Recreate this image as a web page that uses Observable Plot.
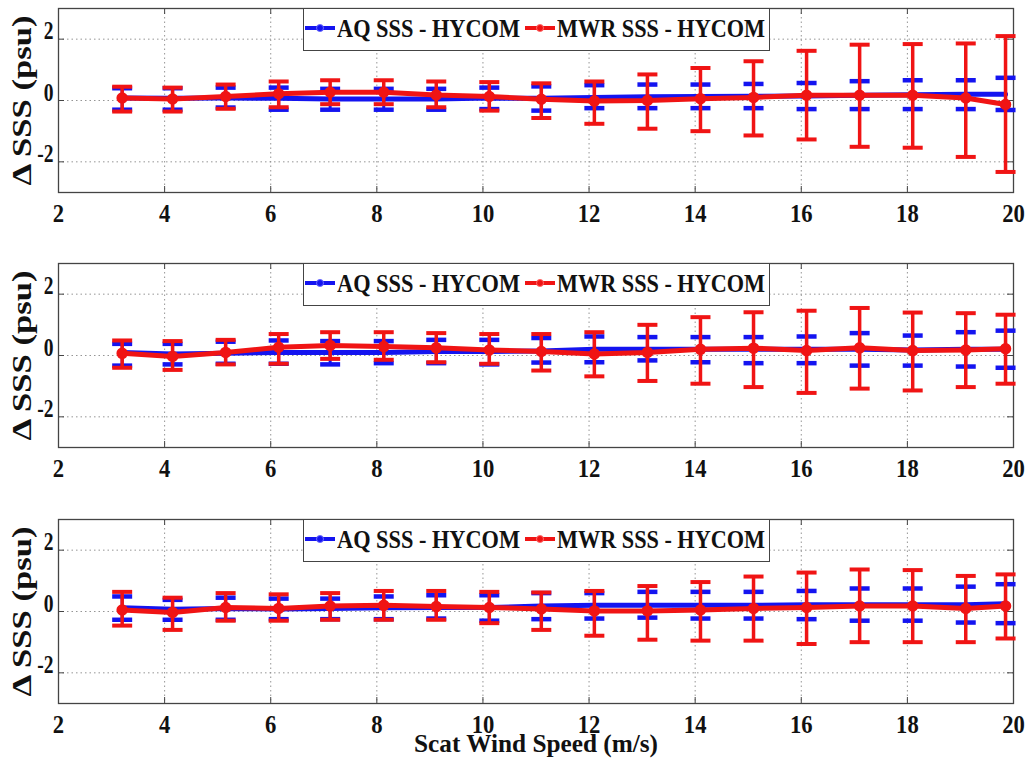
<!DOCTYPE html>
<html>
<head>
<meta charset="utf-8">
<script src="https://cdn.jsdelivr.net/npm/d3@7"></script>
<script src="https://cdn.jsdelivr.net/npm/@observablehq/plot@0.6"></script>
<style>
  body { margin: 0; background: #fff; }
  #chart { position: relative; width: 1031px; height: 774px; overflow: hidden; background: #fff; }
  .panel { position: absolute; left: 0; }
  .legend { position: absolute; left: 303px; width: 467px; height: 43px; border: 1.3px solid #444; background: #fff; box-sizing: border-box;
            font-family: "Liberation Serif", Tinos, "Times New Roman", Times, "DejaVu Serif", serif; font-weight: bold; font-size: 26px; color: #111; }
  .legend .lab { position: absolute; top: 7px; line-height: 1; white-space: nowrap; transform-origin: left center; }
  .legend .sw { position: absolute; top: 17px; width: 30px; height: 4px; }
  .legend .mk { position: absolute; top: 15px; width: 8px; height: 8px; border-radius: 50%; }
</style>
</head>
<body>
<div id="chart"></div>
<script>
// ---------------- data ----------------
const windSpeed = [3.2, 4.15, 5.15, 6.15, 7.12, 8.13, 9.12, 10.12, 11.1, 12.1, 13.1, 14.1, 15.1, 16.1, 17.1, 18.1, 19.1, 19.85];
const xTicks = [2, 4, 6, 8, 10, 12, 14, 16, 18, 20];
const yTicks = [-2, 0, 2];
const seriesNames = ["AQ SSS - HYCOM", "MWR SSS - HYCOM"];
const yLabel = "Δ SSS (psu)";
const xLabel = "Scat Wind Speed (m/s)";

// Panel 1
const aq1Mean  = [0.08, 0.07, 0.08, 0.07, 0.05, 0.05, 0.05, 0.08, 0.07, 0.1, 0.12, 0.13, 0.14, 0.15, 0.17, 0.19, 0.2, 0.2];
const aq1Hi    = [0.4, 0.4, 0.42, 0.42, 0.38, 0.38, 0.38, 0.42, 0.46, 0.5, 0.52, 0.52, 0.54, 0.57, 0.63, 0.66, 0.66, 0.74];
const aq1Lo    = [-0.3, -0.3, -0.23, -0.3, -0.3, -0.3, -0.3, -0.28, -0.33, -0.25, -0.25, -0.25, -0.25, -0.28, -0.28, -0.28, -0.28, -0.31];
const mwr1Mean = [0.08, 0.05, 0.13, 0.22, 0.27, 0.27, 0.18, 0.13, 0.04, -0.02, 0.0, 0.06, 0.1, 0.17, 0.17, 0.17, 0.08, -0.13];
const mwr1Hi   = [0.45, 0.42, 0.52, 0.62, 0.66, 0.66, 0.62, 0.6, 0.56, 0.62, 0.85, 1.06, 1.28, 1.62, 1.82, 1.84, 1.86, 2.1];
const mwr1Lo   = [-0.36, -0.36, -0.27, -0.22, -0.12, -0.12, -0.22, -0.33, -0.57, -0.76, -0.92, -1.0, -1.14, -1.27, -1.51, -1.54, -1.84, -2.33];

// Panel 2
const aq2Mean  = [0.1, 0.05, 0.07, 0.1, 0.1, 0.1, 0.13, 0.13, 0.15, 0.2, 0.2, 0.2, 0.2, 0.2, 0.2, 0.18, 0.2, 0.2];
const aq2Hi    = [0.38, 0.38, 0.45, 0.49, 0.47, 0.47, 0.51, 0.51, 0.57, 0.62, 0.6, 0.6, 0.6, 0.62, 0.73, 0.65, 0.76, 0.81];
const aq2Lo    = [-0.33, -0.29, -0.27, -0.27, -0.29, -0.25, -0.25, -0.29, -0.23, -0.22, -0.16, -0.22, -0.25, -0.25, -0.33, -0.33, -0.36, -0.4];
const mwr2Mean = [0.07, -0.03, 0.1, 0.27, 0.33, 0.29, 0.25, 0.18, 0.13, 0.05, 0.1, 0.2, 0.24, 0.16, 0.25, 0.16, 0.18, 0.22];
const mwr2Hi   = [0.49, 0.47, 0.51, 0.7, 0.76, 0.76, 0.73, 0.7, 0.7, 0.76, 1.0, 1.25, 1.41, 1.46, 1.55, 1.4, 1.38, 1.33];
const mwr2Lo   = [-0.4, -0.47, -0.29, -0.27, -0.11, -0.14, -0.22, -0.27, -0.49, -0.68, -0.83, -0.92, -1.03, -1.22, -1.08, -1.14, -1.03, -0.92];

// Panel 3
const aq3Mean  = [0.12, 0.07, 0.1, 0.08, 0.1, 0.12, 0.13, 0.13, 0.18, 0.2, 0.2, 0.2, 0.2, 0.22, 0.22, 0.22, 0.22, 0.25];
const aq3Hi    = [0.49, 0.38, 0.45, 0.42, 0.42, 0.49, 0.53, 0.53, 0.6, 0.6, 0.64, 0.64, 0.64, 0.67, 0.75, 0.75, 0.81, 0.89];
const aq3Lo    = [-0.27, -0.27, -0.27, -0.25, -0.25, -0.25, -0.23, -0.3, -0.25, -0.23, -0.2, -0.23, -0.23, -0.25, -0.3, -0.3, -0.36, -0.38];
const mwr3Mean = [0.05, -0.03, 0.13, 0.1, 0.18, 0.2, 0.16, 0.13, 0.08, 0.02, 0.02, 0.05, 0.1, 0.13, 0.18, 0.18, 0.1, 0.18];
const mwr3Hi   = [0.64, 0.45, 0.6, 0.56, 0.6, 0.67, 0.67, 0.64, 0.62, 0.67, 0.83, 0.96, 1.14, 1.27, 1.37, 1.35, 1.16, 1.21];
const mwr3Lo   = [-0.46, -0.6, -0.3, -0.3, -0.27, -0.27, -0.27, -0.38, -0.6, -0.79, -0.92, -0.95, -0.95, -1.06, -1.0, -1.0, -1.0, -0.88];

// ---------------- styling ----------------
const BLUE = "#1414f0";
const RED = "#f01414";
const FONT = "'Liberation Serif', Tinos, 'Times New Roman', Times, 'DejaVu Serif', serif";
const W = 1031, ML = 58, MR = 18, MT = 8;
const PLOT_H = 184, PLOT_W = W - ML - MR;

const capSymbol = {
  draw(ctx, size) {
    const w = Math.sqrt(size / Math.PI);
    ctx.moveTo(-w, 0);
    ctx.lineTo(w, 0);
  }
};

function rowsOf(aqM, aqL, aqH, mM, mL, mH) {
  return windSpeed.map((x, i) => ({
    x, aqMean: aqM[i], aqLo: aqL[i], aqHi: aqH[i], mMean: mM[i], mLo: mL[i], mHi: mH[i]
  }));
}

function makePanel(rows, withXLabel) {
  const height = withXLabel ? 263 : 255;
  const marginBottom = height - MT - PLOT_H;
  return Plot.plot({
    width: W, height,
    marginTop: MT, marginLeft: ML, marginRight: MR, marginBottom,
    x: { domain: [2, 20] },
    y: { domain: [-3, 3] },
    style: { fontFamily: FONT, fontWeight: "bold", fontSize: "26px", color: "#111", background: "transparent", overflow: "visible" },
    marks: [
      Plot.gridX(xTicks.slice(1, -1), { stroke: "#8a8a8a", strokeOpacity: 0.9, strokeDasharray: "1.5,3", strokeWidth: 1 }),
      Plot.gridY(yTicks, { stroke: "#8a8a8a", strokeOpacity: 0.9, strokeDasharray: "1.5,3", strokeWidth: 1 }),
      // inward tick marks (MATLAB style)
      Plot.tickX(xTicks, { x: d => d, insetTop: PLOT_H - 6, stroke: "#444" }),
      Plot.tickX(xTicks, { x: d => d, insetBottom: PLOT_H - 6, stroke: "#444" }),
      Plot.tickY(yTicks, { y: d => d, insetRight: PLOT_W - 6, stroke: "#444" }),
      Plot.tickY(yTicks, { y: d => d, insetLeft: PLOT_W - 6, stroke: "#444" }),
      Plot.axisX({ ticks: xTicks, tickFormat: d => String(d), tickSize: 0, tickPadding: 11, label: withXLabel ? xLabel : null,
                   labelAnchor: "center", labelOffset: 48, labelArrow: "none" }),
      Plot.axisY({ ticks: yTicks, tickFormat: d => String(d), tickSize: 0, tickPadding: 5, label: yLabel,
                   labelAnchor: "center", labelOffset: 47, labelArrow: "none" }),
      Plot.frame({ stroke: "#444", strokeWidth: 1.3 }),
      // AQ series
      Plot.ruleX(rows, { x: "x", y1: "aqLo", y2: "aqHi", stroke: BLUE, strokeWidth: 3 }),
      Plot.line(rows, { x: "x", y: "aqMean", stroke: BLUE, strokeWidth: 5 }),
      Plot.dot(rows, { x: "x", y: "aqLo", symbol: capSymbol, r: 10, fill: "none", stroke: BLUE, strokeWidth: 4.5 }),
      Plot.dot(rows, { x: "x", y: "aqHi", symbol: capSymbol, r: 10, fill: "none", stroke: BLUE, strokeWidth: 4.5 }),
      // MWR series
      Plot.ruleX(rows, { x: "x", y1: "mLo", y2: "mHi", stroke: RED, strokeWidth: 3.5 }),
      Plot.dot(rows, { x: "x", y: "mLo", symbol: capSymbol, r: 10, fill: "none", stroke: RED, strokeWidth: 4 }),
      Plot.dot(rows, { x: "x", y: "mHi", symbol: capSymbol, r: 10, fill: "none", stroke: RED, strokeWidth: 4 }),
      Plot.line(rows, { x: "x", y: "mMean", stroke: RED, strokeWidth: 5 }),
      Plot.dot(rows, { x: "x", y: "mMean", r: 5, fill: RED, stroke: RED })
    ]
  });
}

// Fit middle-anchored texts via textLength
function fitLength(svg, label, k, target, fontSize) {
  svg.querySelectorAll(`g[aria-label="${label}"] text`).forEach(t => {
    if (fontSize) t.style.fontSize = fontSize;
    const L = t.getComputedTextLength();
    t.setAttribute("textLength", target != null ? target : L * k);
    t.setAttribute("lengthAdjust", "spacingAndGlyphs");
  });
}
// Horizontally compress texts around their anchor (works with end anchors)
function compress(svg, label, k) {
  svg.querySelectorAll(`g[aria-label="${label}"] text`).forEach(t => {
    let tr = t.getAttribute("transform") || "";
    if (t.hasAttribute("x") || t.hasAttribute("y")) {
      const x = parseFloat(t.getAttribute("x")) || 0, y = parseFloat(t.getAttribute("y")) || 0;
      t.removeAttribute("x"); t.removeAttribute("y");
      tr += ` translate(${x},${y})`;
    }
    t.setAttribute("transform", tr + ` scale(${k},1)`);
  });
}

function makeLegend(top) {
  const lg = document.createElement("div");
  lg.className = "legend";
  lg.style.top = top + "px";
  lg.innerHTML = `
    <div class="sw" style="left:1px;background:${BLUE}"></div>
    <div class="mk" style="left:12px;background:${BLUE};border:1px solid #6a6aff;box-sizing:border-box"></div>
    <div class="lab" data-w="183" style="left:33px">${seriesNames[0]}</div>
    <div class="sw" style="left:221px;background:${RED}"></div>
    <div class="mk" style="left:232px;background:${RED};border:1px solid #ff6a6a;box-sizing:border-box"></div>
    <div class="lab" data-w="208" style="left:253px">${seriesNames[1]}</div>`;
  return lg;
}

const chart = document.getElementById("chart");
const panels = [
  { rows: rowsOf(aq1Mean, aq1Lo, aq1Hi, mwr1Mean, mwr1Lo, mwr1Hi), top: 0, xl: false },
  { rows: rowsOf(aq2Mean, aq2Lo, aq2Hi, mwr2Mean, mwr2Lo, mwr2Hi), top: 255, xl: false },
  { rows: rowsOf(aq3Mean, aq3Lo, aq3Hi, mwr3Mean, mwr3Lo, mwr3Hi), top: 511, xl: true }
];
for (const p of panels) {
  const svg = makePanel(p.rows, p.xl);
  svg.classList.add("panel");
  svg.style.position = "absolute";
  svg.style.top = p.top + "px";
  svg.style.left = "0px";
  chart.appendChild(svg);
  fitLength(svg, "x-axis tick label", 0.87);
  fitLength(svg, "y-axis label", 1, 170, "27px");
  fitLength(svg, "x-axis label", 1, 244, "26px");
  compress(svg, "y-axis tick label", 0.75);
  const lg = makeLegend(p.top + MT);
  chart.appendChild(lg);
  lg.querySelectorAll(".lab").forEach(el => {
    const w = el.getBoundingClientRect().width;
    el.style.transform = `scaleX(${(+el.dataset.w) / w})`;
  });
}
</script>
</body>
</html>
